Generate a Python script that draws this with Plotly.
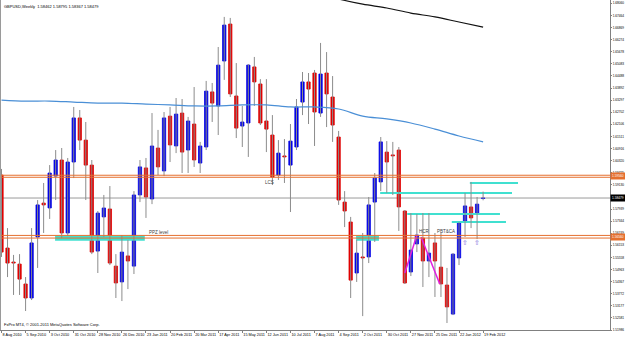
import plotly.graph_objects as go

title_text = "GBPUSD,Weekly  1.58462 1.58795 1.58367 1.58479"
copyright_text = "FxPro MT4, \u00a9 2001-2011 MetaQuotes Software Corp."

bar_index = list(range(81))
opens = [1.5961, 1.5602, 1.5533, 1.5523, 1.5425, 1.5356, 1.5656, 1.5823, 1.5799, 1.5956,
         1.6035, 1.5676, 1.6025, 1.6242, 1.6133, 1.6010, 1.5587, 1.5755, 1.5794, 1.5513,
         1.5435, 1.5563, 1.5513, 1.5863, 1.5996, 1.5843, 1.6094, 1.5981, 1.6251, 1.6104,
         1.6266, 1.6084, 1.6212, 1.6020, 1.6099, 1.6370, 1.6301, 1.6522, 1.6704, 1.6350,
         1.6202, 1.6217, 1.6493, 1.6409, 1.6227, 1.6158, 1.5961, 1.6055, 1.6010, 1.6099,
         1.6320, 1.6419, 1.6463, 1.6266, 1.6463, 1.6345, 1.6148, 1.5828, 1.5730, 1.5479,
         1.5558, 1.5558, 1.5828, 1.5927, 1.6074, 1.6060, 1.6084, 1.5784, 1.5484, 1.5622,
         1.5651, 1.5538, 1.5627, 1.5508, 1.5420, 1.5277, 1.5553, 1.5730, 1.5804, 1.5769,
         1.58462]
highs = [1.5991, 1.5700, 1.5568, 1.5572, 1.5459, 1.5700, 1.5838, 1.5922, 1.6010, 1.6084,
         1.6094, 1.6045, 1.6296, 1.6281, 1.6222, 1.6035, 1.5784, 1.5863, 1.5907, 1.5572,
         1.5666, 1.5641, 1.5882, 1.6035, 1.6045, 1.6266, 1.6183, 1.6271, 1.6296, 1.6340,
         1.6335, 1.6247, 1.6394, 1.6124, 1.6424, 1.6414, 1.6591, 1.6739, 1.6734, 1.6512,
         1.6301, 1.6507, 1.6542, 1.6433, 1.6433, 1.6256, 1.6133, 1.6138, 1.6212, 1.6335,
         1.6468, 1.6463, 1.6478, 1.6611, 1.6566, 1.6448, 1.6178, 1.5882, 1.5755, 1.5641,
         1.5676, 1.5853, 1.5971, 1.6148, 1.6128, 1.6124, 1.6099, 1.5789, 1.5774, 1.5769,
         1.5774, 1.5774, 1.5676, 1.5676, 1.5504, 1.5577, 1.5730, 1.5873, 1.5927, 1.5853,
         1.58795]
lows = [1.5558, 1.5459, 1.5371, 1.5371, 1.5292, 1.5346, 1.5504, 1.5676, 1.5745, 1.5838,
        1.5651, 1.5661, 1.5946, 1.6084, 1.5838, 1.5572, 1.5479, 1.5656, 1.5518, 1.5356,
        1.5341, 1.5400, 1.5474, 1.5828, 1.5750, 1.5818, 1.5961, 1.5956, 1.6025, 1.6069,
        1.5971, 1.5971, 1.6001, 1.5971, 1.6084, 1.6222, 1.6158, 1.6429, 1.6345, 1.6143,
        1.6099, 1.6050, 1.6301, 1.6207, 1.6074, 1.5912, 1.5937, 1.5922, 1.5779, 1.6084,
        1.6256, 1.6212, 1.6104, 1.6247, 1.6197, 1.6124, 1.5814, 1.5705, 1.5356, 1.5435,
        1.5267, 1.5528, 1.5632, 1.5882, 1.5873, 1.5863, 1.5686, 1.5425, 1.5464, 1.5582,
        1.5410, 1.5459, 1.5361, 1.5361, 1.5233, 1.5272, 1.5518, 1.5656, 1.5700, 1.5646,
        1.58367]
closes = [1.5582, 1.5528, 1.5528, 1.5449, 1.5356, 1.5627, 1.5814, 1.5814, 1.5971, 1.6035,
          1.5676, 1.6025, 1.6242, 1.6133, 1.6010, 1.5582, 1.5774, 1.5799, 1.5528, 1.5430,
          1.5582, 1.5538, 1.5863, 1.6001, 1.5853, 1.6104, 1.6001, 1.6242, 1.6109, 1.6261,
          1.6074, 1.6227, 1.6035, 1.6104, 1.6374, 1.6315, 1.6502, 1.6699, 1.6360, 1.6192,
          1.6222, 1.6502, 1.6419, 1.6217, 1.6187, 1.5951, 1.6069, 1.6050, 1.6128, 1.6296,
          1.6419, 1.6384, 1.6271, 1.6458, 1.6360, 1.6207, 1.5838, 1.5784, 1.5444, 1.5577,
          1.5553, 1.5814, 1.5946, 1.6124, 1.6025, 1.6055, 1.5804, 1.5430, 1.5592, 1.5666,
          1.5538, 1.5577, 1.5538, 1.5425, 1.5312, 1.5572, 1.5725, 1.5809, 1.5750, 1.5818,
          1.58479]

ma_blue_x = [0, 4, 8, 12, 16, 20, 24, 28, 32, 36, 40, 44, 48, 52, 56, 60, 64, 68, 72, 76, 80]
ma_blue_y = [1.6330, 1.6325, 1.6325, 1.6320, 1.6315, 1.6315, 1.6310, 1.6306, 1.6301, 1.6301,
             1.6306, 1.6306, 1.6296, 1.6296, 1.6286, 1.6251, 1.6237, 1.6217, 1.6187, 1.6153, 1.6124]
ma_black_x = [52, 56, 60, 64, 68, 72, 76, 80]
ma_black_y = [1.6862, 1.6827, 1.6802, 1.6783, 1.6758, 1.6739, 1.6714, 1.6689]

x_tick_pos = [0, 4, 8, 12, 16, 20, 24, 28, 32, 36, 40, 44, 48, 52, 56, 60, 64, 68, 72, 76, 80]
x_tick_labels = ["8 Aug 2010", "5 Sep 2010", "3 Oct 2010", "31 Oct 2010", "28 Nov 2010",
                 "26 Dec 2010", "23 Jan 2011", "20 Feb 2011", "20 Mar 2011", "17 Apr 2011",
                 "15 May 2011", "12 Jun 2011", "10 Jul 2011", "7 Aug 2011", "4 Sep 2011",
                 "2 Oct 2011", "30 Oct 2011", "27 Nov 2011", "25 Dec 2011", "22 Jan 2012",
                 "19 Feb 2012"]
y_tick_vals = [1.51986, 1.52581, 1.53177, 1.53772, 1.54367, 1.54963, 1.55558, 1.56153,
               1.56749, 1.57344, 1.57939, 1.58535, 1.59130, 1.59725, 1.60320, 1.60916,
               1.61511, 1.62106, 1.62702, 1.63297, 1.63892, 1.64488, 1.65083, 1.65678,
               1.66274, 1.66869, 1.67464, 1.68060]
y_tick_labels = ["1.51986", "1.52581", "1.53177", "1.53772", "1.54367", "1.54963", "1.55558",
                 "1.56153", "1.56749", "1.57344", "1.57939", "", "1.59130", "1.59725",
                 "1.60320", "1.60916", "1.61511", "1.62106", "1.62702", "1.63297", "1.63892",
                 "1.64488", "1.65083", "1.65678", "1.66274", "1.66869", "1.67464", "1.68060"]

bid_price = 1.58479
orange_levels = [1.5960, 1.5950, 1.5664, 1.5651]
orange_labels = [(1.5956, "1.59560"), (1.5656, "1.56560")]

cyan_start = [62.9, 77.8, 67.4, 74.8]
cyan_end = [84.8, 85.8, 82.8, 83.8]
cyan_level = [1.5873, 1.5922, 1.5769, 1.5730]
zone_start = [8.9, 58.9]
zone_end = [23.8, 62.7]
zone_level = [1.5650, 1.5650]
magenta_x = [67.0, 69.0, None, 69.7, 72.8]
magenta_y = [1.5479, 1.5666, None, 1.5656, 1.5425]

labels_text = ["LCS", "PPZ level", "HCR", "PBT&CA"]
labels_x = [44.6, 24.2, 70.2, 73.8]
labels_y = [1.5922, 1.5676, 1.5681, 1.5681]
labels_anchor = ["center", "left", "center", "center"]
arrow_x = [77, 79]
arrow_y = [1.5627, 1.5627]

BULL = "#0000E6"
BEAR = "#E00000"
WICK = "#8C8C8C"
AXIS_FONT = 3.2

fig = go.Figure()

for s, e, lv in zip(zone_start, zone_end, zone_level):
    fig.add_trace(go.Scatter(x=[s, e], y=[lv, lv], mode="lines",
                             line=dict(color="#40E0D0", width=5), hoverinfo="skip"))
for s, e, lv in zip(cyan_start, cyan_end, cyan_level):
    fig.add_trace(go.Scatter(x=[s, e], y=[lv, lv], mode="lines",
                             line=dict(color="#40E0D0", width=2), hoverinfo="skip"))

wx, wy = [], []
for k, h, l in zip(bar_index, highs, lows):
    wx += [k, k, None]
    wy += [l, h, None]
fig.add_trace(go.Scatter(x=wx, y=wy, mode="lines", line=dict(color=WICK, width=1),
                         hoverinfo="skip"))

bx, bb, bh = [], [], []
rx, rb, rh = [], [], []
for k, o, c in zip(bar_index, opens, closes):
    if c > o:
        bx.append(k); bb.append(o); bh.append(c - o)
    else:
        rx.append(k); rb.append(o); rh.append(c - o)
fig.add_trace(go.Bar(x=bx, base=bb, y=bh, width=0.55, marker=dict(color=BULL, line=dict(color=BULL, width=0.8))))
fig.add_trace(go.Bar(x=rx, base=rb, y=rh, width=0.55, marker=dict(color=BEAR, line=dict(color=BEAR, width=0.8))))

fig.add_trace(go.Scatter(x=ma_blue_x, y=ma_blue_y, mode="lines", line=dict(color="#4A8FD6", width=1.2, shape="spline"), hoverinfo="skip"))
fig.add_trace(go.Scatter(x=ma_black_x, y=ma_black_y, mode="lines", line=dict(color="#111111", width=1.2, shape="spline"), hoverinfo="skip"))

fig.add_trace(go.Scatter(x=magenta_x, y=magenta_y, mode="lines", line=dict(color="#E020E0", width=1.5), hoverinfo="skip"))

shapes = []
shapes.append(dict(type="line", xref="paper", x0=0, x1=1, yref="y", y0=bid_price, y1=bid_price,
                   line=dict(color="#9A9A9A", width=1), layer="below"))
for lv in orange_levels:
    shapes.append(dict(type="line", xref="paper", x0=0, x1=1, yref="y", y0=lv, y1=lv,
                       line=dict(color="#E5702F", width=1)))
shapes.append(dict(type="line", xref="paper", x0=0, x1=0, yref="paper", y0=0, y1=1,
                   line=dict(color="#9A9A9A", width=2)))

annotations = []
annotations.append(dict(text=title_text, xref="paper", yref="paper", x=0.004, y=0.995,
                        xanchor="left", yanchor="top", showarrow=False,
                        font=dict(size=4, color="#000000", family="Liberation Sans")))
annotations.append(dict(text=copyright_text, xref="paper", yref="paper", x=0.004, y=0.003,
                        xanchor="left", yanchor="bottom", showarrow=False,
                        font=dict(size=4, color="#000000", family="Liberation Sans")))
for t, x, y, a in zip(labels_text, labels_x, labels_y, labels_anchor):
    annotations.append(dict(text=t, x=x, y=y, xanchor=a, yanchor="middle", showarrow=False,
                            font=dict(size=4.5, color="#404040", family="Liberation Sans")))
for x, y in zip(arrow_x, arrow_y):
    annotations.append(dict(text="\u21e7", x=x, y=y, xanchor="center", yanchor="middle", showarrow=False,
                            font=dict(size=7, color="#7A6AD8", family="DejaVu Sans")))
for lv, txt in orange_labels:
    annotations.append(dict(text=txt, xref="paper", x=1, xanchor="left", yref="y", y=lv,
                            yanchor="middle", showarrow=False, bgcolor="#E5702F", borderpad=1,
                            font=dict(size=AXIS_FONT, color="#FFFFFF", family="Liberation Sans")))
annotations.append(dict(text="%.5f" % bid_price, xref="paper", x=1, xanchor="left", yref="y", y=bid_price,
                        yanchor="middle", showarrow=False, bgcolor="#000000", borderpad=1,
                        font=dict(size=AXIS_FONT, color="#FFFFFF", family="Liberation Sans")))

fig.update_layout(
    width=625, height=338,
    margin=dict(l=0, r=15, t=0, b=8),
    paper_bgcolor="#FFFFFF", plot_bgcolor="#FFFFFF",
    showlegend=False, barmode="overlay",
    shapes=shapes, annotations=annotations,
    font=dict(family="Liberation Sans", size=4, color="#000000"),
    xaxis=dict(range=[-0.25, 101.08], tickvals=x_tick_pos, ticktext=x_tick_labels, tickangle=0,
               showgrid=False, zeroline=False, showline=True, linecolor="#808080", linewidth=1,
               ticks="outside", ticklen=2, tickcolor="#808080", ticklabelposition="outside right",
               tickfont=dict(size=3.8), automargin=False, fixedrange=True),
    yaxis=dict(range=[1.51986, 1.68222], side="right", tickvals=y_tick_vals, ticktext=y_tick_labels,
               showgrid=False, zeroline=False, showline=True, linecolor="#808080", linewidth=1,
               ticks="outside", ticklen=1, tickcolor="#808080", tickfont=dict(size=AXIS_FONT),
               ticklabelstandoff=0, automargin=False, fixedrange=True),
)

fig.write_html("out.html")
